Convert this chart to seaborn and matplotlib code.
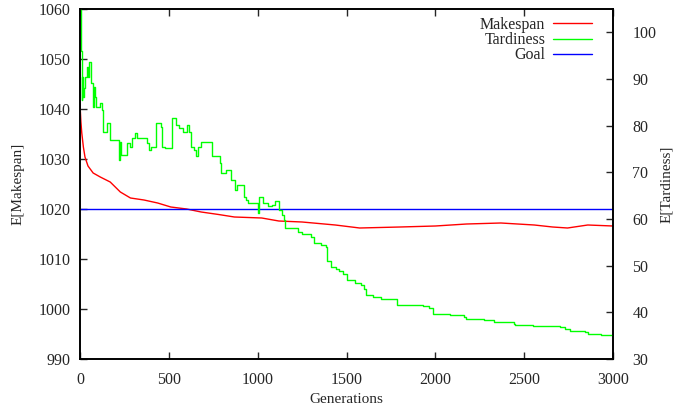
import matplotlib
matplotlib.use("Agg")
import matplotlib.pyplot as plt
import seaborn as sns
import pandas as pd

# Makespan (linke Achse)
gen_mk = [0, 5, 10, 19, 28, 45, 74, 114, 170, 227, 284, 360, 437, 511, 600, 682,
          780, 869, 1023, 1119, 1250, 1437, 1574, 1801, 2000, 2176, 2369, 2557,
          2660, 2744, 2858, 3000]
makespan = [1041, 1037.5, 1035.2, 1032.4, 1030.4, 1028.6, 1027.2, 1026.4, 1025.4,
            1023.4, 1022.2, 1021.8, 1021.2, 1020.4, 1020.0, 1019.4, 1018.9, 1018.4,
            1018.2, 1017.6, 1017.4, 1016.8, 1016.2, 1016.4, 1016.6, 1017.0, 1017.2,
            1016.8, 1016.4, 1016.2, 1016.8, 1016.6]

# Tardiness (rechte Achse), Treppenfunktion
gen_td = [0, 3, 6, 9, 12, 16, 22, 28, 38, 47, 53, 61, 72, 76, 85, 91, 114, 123, 132,
          152, 170, 218, 227, 233, 242, 265, 284, 294, 312, 322, 379, 388, 400, 425,
          455, 464, 480, 518, 540, 559, 578, 602, 612, 625, 644, 653, 663, 682, 742,
          786, 795, 824, 850, 875, 881, 925, 937, 947, 1000, 1008, 1030, 1060, 1080,
          1098, 1122, 1136, 1146, 1155, 1228, 1250, 1300, 1316, 1354, 1382, 1390,
          1411, 1439, 1458, 1480, 1500, 1550, 1580, 1600, 1610, 1648, 1695, 1785,
          1932, 1965, 1985, 2083, 2159, 2175, 2273, 2330, 2440, 2450, 2550, 2700,
          2730, 2756, 2841, 2860, 2935, 3000]
tardiness = [105, 99.4, 96, 85.5, 90.4, 86.1, 88, 90.4, 92.6, 90.4, 93.6, 89.1, 84.0,
             88.3, 86.1, 84.0, 84.9, 83.4, 78.6, 80.6, 76.9, 72.6, 76.5, 73.7, 73.7,
             76.3, 75.4, 77.4, 78.4, 77.4, 76.3, 74.8, 75.4, 80.6, 79.7, 75.4, 75.2,
             81.6, 80.1, 79.5, 78.6, 80.1, 78.6, 75.5, 74.8, 73.4, 75.5, 76.6, 73.4,
             72.0, 69.9, 70.5, 68.4, 66.2, 67.3, 64.8, 64.1, 63.4, 61.3, 64.8, 63.4,
             62.8, 63.0, 63.9, 61.9, 60.9, 59.8, 58.0, 57.3, 56.8, 56.2, 54.9, 54.4,
             54.1, 50.9, 49.8, 49.2, 48.9, 48.3, 46.9, 46.2, 45.9, 45.1, 43.7, 43.3,
             42.8, 41.6, 41.4, 40.9, 39.6, 39.4, 39.1, 38.5, 38.4, 38.0, 37.5, 37.2,
             37.0, 36.8, 36.4, 36.1, 35.8, 35.4, 35.2, 34.9]

gen_goal = [0, 3000]
goal = [1020, 1020]

df_mk = pd.DataFrame({"gen": gen_mk, "val": makespan})
df_td = pd.DataFrame({"gen": gen_td, "val": tardiness})
df_goal = pd.DataFrame({"gen": gen_goal, "val": goal})

sns.set_style("ticks")
plt.rcParams["font.family"] = ["Liberation Serif", "DejaVu Serif"]
plt.rcParams["font.size"] = 11.5

fig = plt.figure(figsize=(6.73, 4.09), dpi=100)
ax = fig.add_axes([80 / 673, 1 - 359 / 409, 533 / 673, 350 / 409])
ax2 = ax.twinx()

sns.lineplot(data=df_mk, x="gen", y="val", ax=ax, color="#ff0000", lw=1,
             estimator=None, sort=False, label="Makespan", legend=False)
sns.lineplot(data=df_goal, x="gen", y="val", ax=ax, color="#0000ff", lw=1,
             estimator=None, sort=False, label="Goal", legend=False)
sns.lineplot(data=df_td, x="gen", y="val", ax=ax2, color="#00ff00", lw=1,
             estimator=None, sort=False, drawstyle="steps-post",
             label="Tardiness", legend=False)

ax.set_xlim(0, 3000)
ax.set_ylim(990, 1060)
ax2.set_ylim(30, 105)
ax.set_xticks(range(0, 3001, 500))
ax.set_yticks(range(990, 1061, 10))
ax2.set_yticks(range(30, 101, 10))

ax.tick_params(direction="in", top=True, length=5, width=1, pad=7)
ax.tick_params(axis="x", pad=9)
ax2.tick_params(direction="in", length=5, width=1, pad=14)
for a in (ax, ax2):
    for s in a.spines.values():
        s.set_linewidth(1.2)
        s.set_color("black")

ax.set_xlabel("Generations", fontsize=11)
ax.set_ylabel("E[Makespan]", fontsize=11)
ax2.set_ylabel("E[Tardiness]", fontsize=11)
ax.xaxis.set_label_coords(0.5, -0.098)
ax.yaxis.set_label_coords(-0.105, 0.5)
ax2.yaxis.set_label_coords(1.088, 0.5)

h1, l1 = ax.get_legend_handles_labels()
h2, l2 = ax2.get_legend_handles_labels()
handles = [h1[0], h2[0], h1[1]]
labels = [l1[0], l2[0], l1[1]]
ax2.legend(handles, labels, loc="upper right", bbox_to_anchor=(0.975, 1.0),
           frameon=False, markerfirst=False,
           handlelength=2.4, handletextpad=0.5, labelspacing=-0.05,
           borderaxespad=0.1, fontsize=11.5)

fig.savefig("out.png", dpi=100)
